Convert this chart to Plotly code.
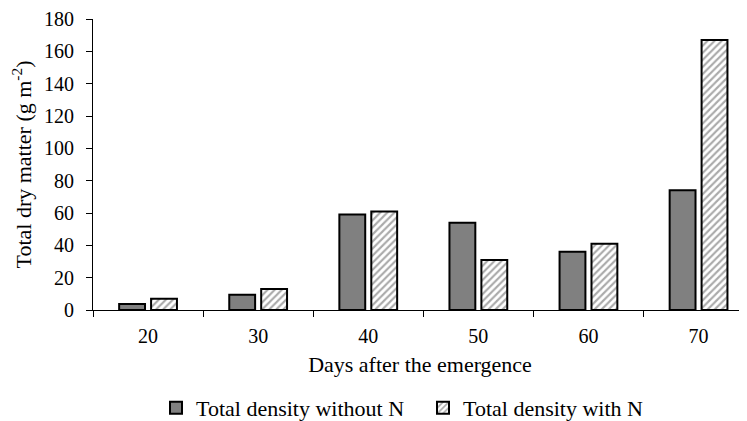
import plotly.graph_objects as go

days = ["20", "30", "40", "50", "60", "70"]
without_n = [3.7, 9.5, 59, 54, 36, 74]
with_n = [7, 13, 61, 31, 41, 167]

serif = "Liberation Serif"

# page body has an 8px margin, so the figure is sized to fit inside the window
W, H = 739, 413

fig = go.Figure()
fig.add_trace(go.Bar(
    x=days, y=without_n, name="Total density without N",
    marker=dict(color="#808080", line=dict(color="black", width=2)),
))
fig.add_trace(go.Bar(
    x=days, y=with_n, name="Total density with N",
    marker=dict(color="white", line=dict(color="black", width=2),
                pattern=dict(shape="/", fgcolor="#555555", bgcolor="white",
                             size=5, solidity=0.42)),
))

fig.update_layout(
    width=W, height=H,
    margin=dict(l=85, r=0, t=11, b=111),
    plot_bgcolor="white", paper_bgcolor="white",
    barmode="group", bargap=0.42, bargroupgap=0.19,
    font=dict(family=serif, size=18, color="black"),
    showlegend=True,
    legend=dict(orientation="h", xref="container", yref="container",
                x=148 / W, xanchor="left", y=1 - 379 / H, yanchor="top",
                font=dict(size=22), itemwidth=30, entrywidth=222,
                traceorder="normal"),
)
fig.update_xaxes(
    type="category", range=[-0.5, 5.44], automargin=False,
    showline=True, linecolor="black", linewidth=1,
    ticks="outside", tickson="boundaries", ticklen=6, tickcolor="black",
    tickfont=dict(size=20), ticklabelstandoff=8,
    title=dict(text="Days after the emergence", standoff=10),
    showgrid=False,
)
fig.update_yaxes(
    range=[0, 180], dtick=20, automargin=False,
    showline=True, linecolor="black", linewidth=1,
    ticks="outside", ticklen=6, tickcolor="black",
    tickfont=dict(size=20), ticklabelstandoff=8,
    title=dict(text="Total dry matter (g m<sup>-2</sup>)", standoff=10),
    showgrid=False, zeroline=False,
)

fig.write_html("out.html")
